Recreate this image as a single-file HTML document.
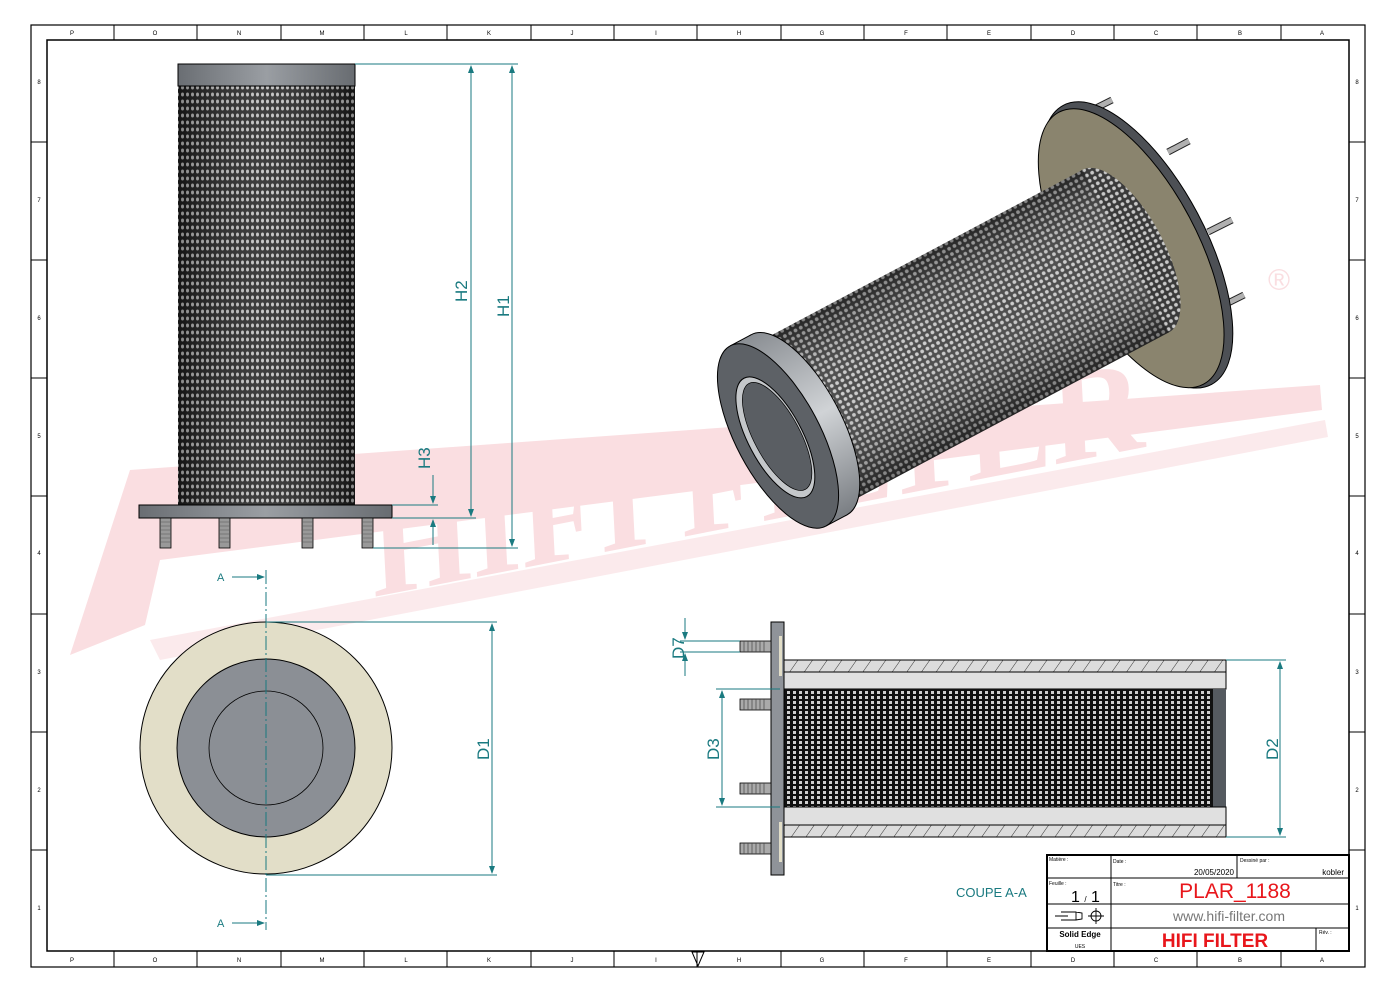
<!DOCTYPE html>
<html><head><meta charset="utf-8"><style>
html,body{margin:0;padding:0;background:#fff}
svg{display:block;font-family:"Liberation Sans",sans-serif}
</style></head><body>
<svg width="1400" height="994" viewBox="0 0 1400 994" xmlns="http://www.w3.org/2000/svg">
<defs>
<pattern id="mesh" width="5" height="7" patternUnits="userSpaceOnUse">
<rect width="5" height="7" fill="#1c1c1c"/>
<ellipse cx="2.5" cy="3.5" rx="1.5" ry="2" fill="#c0c0c0"/>
</pattern>
<pattern id="mesh2" width="6" height="6" patternUnits="userSpaceOnUse">
<rect width="6" height="6" fill="#3a3a3a"/>
<circle cx="3" cy="3" r="1.9" fill="#c8c8c8"/>
</pattern>
<pattern id="mesh3" width="6" height="5" patternUnits="userSpaceOnUse">
<rect width="6" height="5" fill="#111"/>
<rect x="1" y="1" width="3" height="3" fill="#d0d0d0"/>
</pattern>
<pattern id="hatch" width="12" height="12" patternUnits="userSpaceOnUse" patternTransform="rotate(35)">
<rect width="12" height="12" fill="#dcdcdc"/>
<line x1="0" y1="0" x2="0" y2="12" stroke="#333" stroke-width="1"/>
</pattern>
<linearGradient id="capg" x1="0" x2="1">
<stop offset="0" stop-color="#6a6e73"/><stop offset=".5" stop-color="#9a9ea3"/><stop offset="1" stop-color="#686c71"/>
</linearGradient>
<linearGradient id="shade" x1="0" x2="1">
<stop offset="0" stop-color="#000" stop-opacity=".3"/><stop offset=".5" stop-color="#fff" stop-opacity=".15"/><stop offset="1" stop-color="#000" stop-opacity=".3"/>
</linearGradient>
<linearGradient id="bodysh" x1="0" y1="0" x2="0" y2="1">
<stop offset="0" stop-color="#000" stop-opacity=".35"/><stop offset=".45" stop-color="#fff" stop-opacity=".1"/><stop offset="1" stop-color="#000" stop-opacity=".4"/>
</linearGradient>
<linearGradient id="capside" x1="0" y1="0" x2="0" y2="1">
<stop offset="0" stop-color="#8a8e93"/><stop offset=".5" stop-color="#d0d3d6"/><stop offset="1" stop-color="#7a7e83"/>
</linearGradient>
<marker id="ar" markerWidth="8" markerHeight="8" refX="7" refY="4" orient="auto-start-reverse" markerUnits="userSpaceOnUse">
<path d="M0,1 L8,4 L0,7Z" fill="#1a7a80"/></marker>
</defs>

<!-- watermark -->
<g opacity=".45">
<polygon points="70,655 130,470 1320,385 1322,410 160,560 145,625" fill="#f3b6bc"/>
<polygon points="150,640 1325,420 1328,437 160,660" fill="#f7d0d4"/>
<text x="420" y="520" font-family="Liberation Serif,serif" font-weight="bold" font-size="130" transform="rotate(-11 760 420) skewX(-8)" fill="#f3b6bc">HIFI FILTER</text>
<text x="1268" y="290" font-size="30" fill="#f3b6bc">®</text>
</g>

<!-- frame -->
<rect x="31" y="25" width="1334" height="942" fill="none" stroke="#000" stroke-width="1.2"/>
<rect x="47" y="40" width="1302" height="911" fill="none" stroke="#000" stroke-width="1.5"/>
<g stroke="#000" stroke-width="1">
<path d="M114,25V40M197,25V40M281,25V40M364,25V40M447,25V40M531,25V40M614,25V40M697,25V40M781,25V40M864,25V40M947,25V40M1031,25V40M1114,25V40M1197,25V40M1281,25V40"/>
<path d="M114,951V967M197,951V967M281,951V967M364,951V967M447,951V967M531,951V967M614,951V967M697,951V967M781,951V967M864,951V967M947,951V967M1031,951V967M1114,951V967M1197,951V967M1281,951V967"/>
<path d="M31,142H47M31,260H47M31,378H47M31,496H47M31,614H47M31,732H47M31,850H47"/>
<path d="M1349,142H1365M1349,260H1365M1349,378H1365M1349,496H1365M1349,614H1365M1349,732H1365M1349,850H1365"/>
</g>
<g font-size="6" fill="#000" text-anchor="middle">
<text x="72" y="35">P</text><text x="155" y="35">O</text><text x="239" y="35">N</text><text x="322" y="35">M</text><text x="406" y="35">L</text><text x="489" y="35">K</text><text x="572" y="35">J</text><text x="656" y="35">I</text><text x="739" y="35">H</text><text x="822" y="35">G</text><text x="906" y="35">F</text><text x="989" y="35">E</text><text x="1073" y="35">D</text><text x="1156" y="35">C</text><text x="1240" y="35">B</text><text x="1322" y="35">A</text>
<text x="72" y="962">P</text><text x="155" y="962">O</text><text x="239" y="962">N</text><text x="322" y="962">M</text><text x="406" y="962">L</text><text x="489" y="962">K</text><text x="572" y="962">J</text><text x="656" y="962">I</text><text x="739" y="962">H</text><text x="822" y="962">G</text><text x="906" y="962">F</text><text x="989" y="962">E</text><text x="1073" y="962">D</text><text x="1156" y="962">C</text><text x="1240" y="962">B</text><text x="1322" y="962">A</text>
<text x="39" y="84">8</text><text x="39" y="202">7</text><text x="39" y="320">6</text><text x="39" y="438">5</text><text x="39" y="555">4</text><text x="39" y="674">3</text><text x="39" y="792">2</text><text x="39" y="910">1</text>
<text x="1357" y="84">8</text><text x="1357" y="202">7</text><text x="1357" y="320">6</text><text x="1357" y="438">5</text><text x="1357" y="555">4</text><text x="1357" y="674">3</text><text x="1357" y="792">2</text><text x="1357" y="910">1</text>
</g>
<path d="M692,952 L704,952 L698,966Z" fill="none" stroke="#000"/>

<!-- FRONT VIEW -->
<rect x="178" y="86" width="177" height="419" fill="url(#mesh)"/>
<rect x="178" y="86" width="177" height="419" fill="url(#shade)"/>
<rect x="178" y="64" width="177" height="22" fill="url(#capg)" stroke="#000"/>
<rect x="139" y="505" width="253" height="13" fill="url(#capg)" stroke="#000"/>
<g fill="#999" stroke="#000" stroke-width=".8">
<rect x="160" y="518" width="11" height="30"/><rect x="219" y="518" width="11" height="30"/><rect x="302" y="518" width="11" height="30"/><rect x="362" y="518" width="11" height="30"/>
</g>
<g stroke="#555" stroke-width=".6"><path d="M160,522h11M160,526h11M160,530h11M160,534h11M160,538h11M160,542h11M219,522h11M219,526h11M219,530h11M219,534h11M219,538h11M219,542h11M302,522h11M302,526h11M302,530h11M302,534h11M302,538h11M302,542h11M362,522h11M362,526h11M362,530h11M362,534h11M362,538h11M362,542h11"/></g>

<g stroke="#1a7a80" stroke-width="1" fill="none">
<path d="M355,64H518M392,518H476M373,548H518M392,505H438"/>
<path d="M512,66V546" marker-start="url(#ar)" marker-end="url(#ar)"/>
<path d="M471,66V516" marker-start="url(#ar)" marker-end="url(#ar)"/>
<path d="M433,475V503" marker-end="url(#ar)"/><path d="M433,545V520" marker-end="url(#ar)"/>
</g>
<g fill="#1a7a80" font-size="17">
<text transform="translate(467,302) rotate(-90)">H2</text>
<text transform="translate(509,317) rotate(-90)">H1</text>
<text transform="translate(430,469) rotate(-90)">H3</text>
<text transform="translate(489,760) rotate(-90)">D1</text>
<text transform="translate(1278,760) rotate(-90)">D2</text>
<text transform="translate(719,760) rotate(-90)">D3</text>
<text transform="translate(684,659) rotate(-90)">D7</text>
<text x="956" y="897" font-size="13" font-family="Liberation Sans Narrow,sans-serif">COUPE A-A</text>
</g>

<!-- BOTTOM VIEW -->
<circle cx="266" cy="748" r="126" fill="#e2dec8" stroke="#000"/>
<circle cx="266" cy="748" r="89" fill="#8b8f95" stroke="#000"/>
<circle cx="266" cy="748" r="57" fill="none" stroke="#000" stroke-width=".8"/>
<path d="M266,570V930" stroke="#1a7a80" stroke-dasharray="14,3,2,3"/>
<g stroke="#1a7a80" fill="none"><path d="M232,577H264" marker-end="url(#ar)"/><path d="M232,923H264" marker-end="url(#ar)"/>
<path d="M266,622H497M266,875H497"/><path d="M492,624V873" marker-start="url(#ar)" marker-end="url(#ar)"/></g>
<g fill="#1a7a80" font-size="11"><text x="217" y="581">A</text><text x="217" y="927">A</text></g>

<!-- SECTION VIEW -->
<rect x="780" y="660" width="446" height="12" fill="url(#hatch)" stroke="#000"/>
<rect x="780" y="672" width="446" height="17" fill="#e0e0e0" stroke="#000"/>
<rect x="780" y="689" width="446" height="118" fill="url(#mesh3)"/>
<rect x="772" y="689" width="12" height="118" fill="#9a9ea3" stroke="#000"/>
<rect x="1213" y="689" width="13" height="118" fill="#555a60"/>
<rect x="780" y="807" width="446" height="18" fill="#e0e0e0" stroke="#000"/>
<rect x="780" y="825" width="446" height="12" fill="url(#hatch)" stroke="#000"/>
<rect x="771" y="622" width="13" height="253" fill="#8f9399" stroke="#000"/>
<rect x="779" y="636" width="3" height="40" fill="#e2dec8"/><rect x="779" y="822" width="3" height="40" fill="#e2dec8"/>
<g fill="#aaa" stroke="#000" stroke-width=".8">
<rect x="740" y="641" width="31" height="11"/><rect x="740" y="699" width="31" height="11"/><rect x="740" y="783" width="31" height="11"/><rect x="740" y="843" width="31" height="11"/>
</g>
<g stroke="#444" stroke-width=".7"><path d="M744,641v11M748,641v11M752,641v11M756,641v11M760,641v11M764,641v11M744,699v11M748,699v11M752,699v11M756,699v11M760,699v11M764,699v11M744,783v11M748,783v11M752,783v11M756,783v11M760,783v11M764,783v11M744,843v11M748,843v11M752,843v11M756,843v11M760,843v11M764,843v11"/></g>
<g stroke="#1a7a80" fill="none">
<path d="M1226,660H1286M1226,837H1286"/><path d="M1280,662V835" marker-start="url(#ar)" marker-end="url(#ar)"/>
<path d="M716,689H780M716,807H780"/><path d="M722,691V805" marker-start="url(#ar)" marker-end="url(#ar)"/>
<path d="M680,641H740M680,652H740"/><path d="M685,618V639" marker-end="url(#ar)"/><path d="M685,676V654" marker-end="url(#ar)"/>
</g>

<!-- ISOMETRIC -->
<g stroke="#222" stroke-width="7">
<path d="M1092,110L1112,100M1168,152L1189,141M1208,232L1232,220M1222,306L1244,295"/>
</g>
<g stroke="#b0b0b0" stroke-width="5">
<path d="M1092,110L1112,100M1168,152L1189,141M1208,232L1232,220M1222,306L1244,295"/>
</g>
<g transform="rotate(-28 778 436)">
<ellipse cx="1185" cy="436" rx="68" ry="158" fill="#4d5055" stroke="#000"/>
<ellipse cx="1178" cy="436" rx="66" ry="154" fill="#8a846e" stroke="#000"/>
<ellipse cx="1172" cy="436" rx="38" ry="92" fill="url(#mesh2)"/>
<rect x="798" y="344" width="374" height="184" fill="url(#mesh2)"/>
<rect x="798" y="344" width="374" height="184" fill="url(#bodysh)"/>
<ellipse cx="802" cy="436" rx="42" ry="102" fill="url(#capside)" stroke="#000"/>
<rect x="778" y="334" width="24" height="204" fill="url(#capside)"/>
<path d="M778,334H802M778,538H802" stroke="#000"/>
<ellipse cx="778" cy="436" rx="42" ry="102" fill="#5d6166" stroke="#000"/>
<ellipse cx="775" cy="436" rx="27" ry="67" fill="#c4c7ca" stroke="#000"/>
<ellipse cx="777" cy="436" rx="23" ry="60" fill="#5a5e63" stroke="#000" stroke-width=".7"/>
</g>

<!-- TITLE BLOCK -->
<g stroke="#000" fill="none">
<rect x="1047" y="855" width="302" height="96" stroke-width="2" fill="#fff"/>
<path d="M1047,878H1349M1047,904H1349M1047,928H1349M1111,855V951M1237,855V878M1316,928V951"/>
</g>
<g font-size="5" fill="#000"><text x="1049" y="861">Matière :</text><text x="1113" y="863">Date :</text><text x="1240" y="862">Dessiné par :</text><text x="1049" y="885">Feuille :</text><text x="1113" y="886">Titre :</text><text x="1319" y="934">Rév. :</text></g>
<text x="1234" y="875" font-size="8" text-anchor="end">20/05/2020</text>
<text x="1344" y="875" font-size="8" text-anchor="end">kobler</text>
<text x="1071" y="902" font-size="16">1 <tspan font-size="8">/</tspan> 1</text>
<text x="1235" y="898" font-size="21" fill="#e8161b" text-anchor="middle">PLAR_1188</text>
<text x="1229" y="921" font-size="14" fill="#777" text-anchor="middle">www.hifi-filter.com</text>
<text x="1215" y="947" font-size="19" font-weight="bold" fill="#e8161b" text-anchor="middle">HIFI FILTER</text>
<text x="1080" y="937" font-size="8" font-weight="bold" text-anchor="middle">Solid Edge</text>
<text x="1080" y="948" font-size="5" text-anchor="middle">UES</text>
<g stroke="#000" fill="none" stroke-width=".9"><path d="M1055,916H1068M1061,912H1076V920H1061M1076,912L1082,913V919L1076,920"/><circle cx="1096" cy="916" r="5"/><path d="M1088,916H1104M1096,908V924"/></g>
</svg>
</body></html>
